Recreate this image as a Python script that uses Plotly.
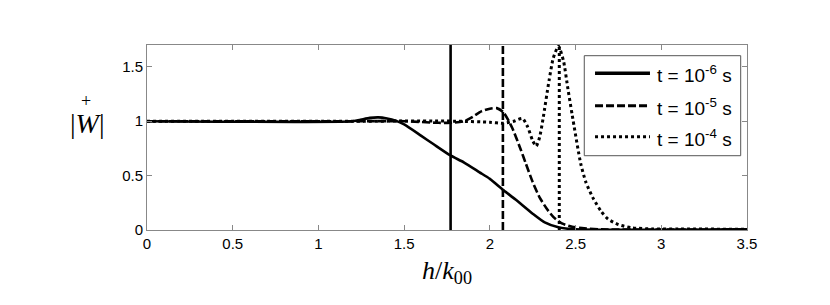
import plotly.graph_objects as go

# t = 1e-6 s
x1 = [0, 1.2, 1.25, 1.3, 1.35, 1.4, 1.45, 1.5, 1.6, 1.67, 1.77, 1.85, 1.94, 2.0, 2.08, 2.15, 2.25, 2.32, 2.4, 2.5, 3.5]
y1 = [1, 1, 1.015, 1.03, 1.035, 1.025, 1.005, 0.97, 0.865, 0.79, 0.685, 0.62, 0.53, 0.47, 0.365, 0.28, 0.15, 0.07, 0.025, 0.006, 0.006]
# t = 1e-5 s
x2 = [0, 1.2, 1.5, 1.7, 1.78, 1.85, 1.9, 1.95, 2.0, 2.04, 2.08, 2.13, 2.18, 2.21, 2.25, 2.29, 2.33, 2.37, 2.42, 2.48, 2.55, 2.65, 3.5]
y2 = [1, 1, 1, 0.985, 0.985, 1.0, 1.04, 1.09, 1.115, 1.12, 1.08, 0.94, 0.74, 0.61, 0.44, 0.3, 0.2, 0.12, 0.06, 0.03, 0.015, 0.006, 0.006]
# t = 1e-4 s
x3 = [0, 1.2, 1.8, 2.0, 2.08, 2.14, 2.19, 2.22, 2.25, 2.27, 2.29, 2.31, 2.345, 2.37, 2.40, 2.43, 2.455, 2.48, 2.53, 2.56, 2.6, 2.65, 2.69, 2.75, 2.83, 2.95, 3.1, 3.5]
y3 = [1, 1, 1, 0.99, 0.98, 1.0, 1.025, 0.95, 0.82, 0.77, 0.85, 1.02, 1.37, 1.58, 1.69, 1.55, 1.3, 1.06, 0.61, 0.44, 0.3, 0.17, 0.1, 0.05, 0.02, 0.01, 0.01, 0.006]
# vertical markers
vx = [1.771, 2.076, 2.405]
vtop = 1.7

names = ["t = 10<sup>-6</sup> s", "t = 10<sup>-5</sup> s", "t = 10<sup>-4</sup> s"]
dashes = ["solid", "8px,3px", "dot"]
widths = [2.6, 2.6, 3]

fig = go.Figure()
for xs, ys, nm, d, w in zip([x1, x2, x3], [y1, y2, y3], names, dashes, widths):
    fig.add_trace(go.Scatter(x=xs, y=ys, mode="lines", name=nm, showlegend=False,
                             line=dict(color="black", width=w, dash=d, shape="spline", smoothing=0.6)))
for v, d, w in zip(vx, dashes, widths):
    fig.add_trace(go.Scatter(x=[v, v], y=[0, vtop], mode="lines", showlegend=False,
                             line=dict(color="black", width=w, dash=d)))

axis_common = dict(showgrid=False, zeroline=False, showline=True, linecolor="#888888", linewidth=1,
                   mirror="ticks", ticks="inside", ticklen=5, tickcolor="#888888",
                   tickfont=dict(family="Liberation Sans, Arial", size=15, color="black"))
fig.update_xaxes(range=[0, 3.5], tickvals=[0, 0.5, 1, 1.5, 2, 2.5, 3, 3.5],
                 ticktext=["0", "0.5", "1", "1.5", "2", "2.5", "3", "3.5"], **axis_common)
fig.update_yaxes(range=[0, 1.7], tickvals=[0, 0.5, 1, 1.5], ticktext=["0", "0.5", "1", "1.5"], **axis_common)

# legend box (drawn in paper coordinates)
shapes = [dict(type="rect", xref="paper", yref="paper", x0=0.7288, x1=0.9895, y0=0.4016, y1=0.9422,
               line=dict(color="#555555", width=1), fillcolor="white", layer="above")]
annots = []
rows = [0.847, 0.672, 0.504]
lw = [3.5, 3, 3]
for ry, nm, d, w in zip(rows, names, dashes, lw):
    shapes.append(dict(type="line", xref="paper", yref="paper", x0=0.7467, x1=0.8383, y0=ry, y1=ry,
                       line=dict(color="black", width=w, dash=d), layer="above"))
    annots.append(dict(text=nm, xref="paper", yref="paper", x=0.8467, y=ry - 0.005,
                       xanchor="left", yanchor="middle", showarrow=False,
                       font=dict(family="Liberation Sans, Arial", size=19, color="black")))

annots += [
    dict(text="<i>h</i>/<i>k</i><sub>00</sub>", xref="paper", yref="paper", x=0.5, y=-0.225,
         xanchor="center", yanchor="middle", showarrow=False,
         font=dict(family="Liberation Serif, Times New Roman", size=26, color="black")),
    dict(text="|<i>W</i>|", xref="paper", yref="paper", x=-0.1, y=0.575,
         xanchor="center", yanchor="middle", showarrow=False,
         font=dict(family="Liberation Serif, Times New Roman", size=28, color="black")),
    dict(text="+", xref="paper", yref="paper", x=-0.102, y=0.695,
         xanchor="center", yanchor="middle", showarrow=False,
         font=dict(family="Liberation Serif, Times New Roman", size=18, color="black")),
]

fig.update_layout(
    width=830, height=305, margin=dict(l=139, r=91, t=37, b=83),
    plot_bgcolor="white", paper_bgcolor="white", showlegend=False,
    shapes=shapes, annotations=annots,
)
fig.write_html("out.html")
